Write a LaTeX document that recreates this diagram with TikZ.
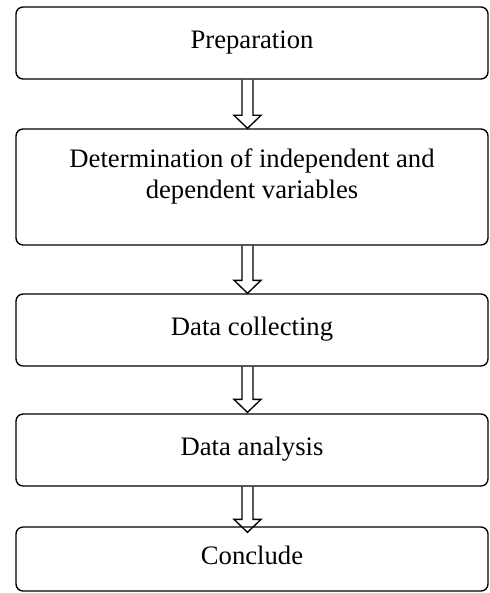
\documentclass[tikz,border=0pt]{standalone}
\usepackage{fontspec}
\setmainfont{Liberation Serif}
\usepackage{tikz}
\usetikzlibrary{calc}
\tikzset{
  bx/.style={draw,line width=0.6pt,rounded corners=3.2pt,minimum width=212.4pt,inner sep=0pt,
    font=\fontsize{12pt}{13.8pt}\selectfont,align=center,text height=9pt,text depth=4pt},
  harr/.style={draw,line width=0.6pt,line join=miter}
}
% hollow block arrow: from box #1 down to box #2, tip moved by #3
\newcommand{\blk}[3]{%
  \draw[harr] ($(#1.south)+(-10,0)$) -- ($(#2.north)+(-10,#3-13)$) -- ($(#2.north)+(-18,#3-13)$)
    -- ($(#2.north)+(-4.5,#3)$) -- ($(#2.north)+(9,#3-13)$) -- ($(#2.north)+(1,#3-13)$)
    -- ($(#1.south)+(1,0)$);}

\begin{document}
\begin{tikzpicture}[x=0.45pt,y=-0.45pt]
\useasboundingbox (0,0) rectangle (490,593);
\node[bx,minimum height=32.4pt] (prep) at (252,43) {Preparation};
\node[bx,minimum height=52.2pt,text height=,text depth=12pt] (detvar) at (252,187)
  {Determination of independent and\\dependent variables};
\node[bx,minimum height=32.4pt] (collect) at (252,330) {Data collecting};
\node[bx,minimum height=32.4pt] (analysis) at (252,450) {Data analysis};
\node[bx,minimum height=28.8pt] (concl) at (252,559) {Conclude};
\blk{prep}{detvar}{0}
\blk{detvar}{collect}{0}
\blk{collect}{analysis}{-1}
\blk{analysis}{concl}{6}
\end{tikzpicture}
\end{document}
